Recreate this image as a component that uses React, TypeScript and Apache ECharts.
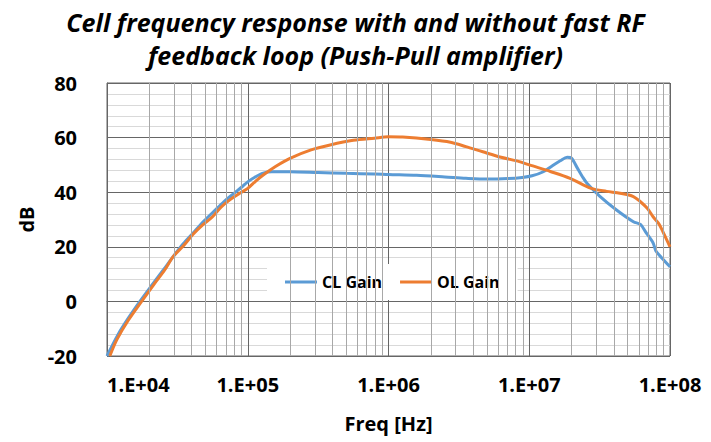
import React, { useEffect, useRef } from "react";
import * as echarts from "echarts";

const titleLines = ["Cell frequency response with and without fast RF", "feedback loop (Push-Pull amplifier)"];
const seriesNames = ["CL Gain", "OL Gain"];
const xTickLabels = ["1.E+04", "1.E+05", "1.E+06", "1.E+07", "1.E+08"];

const clFreq = [
  1.0e4, 1.202e4, 1.445e4, 1.714e4, 2.089e4, 2.512e4, 2.951e4, 3.467e4, 4.169e4, 4.898e4, 5.754e4, 6.761e4, 7.943e4, 9.12e4,
  1.0e5, 1.122e5, 1.288e5, 1.479e5, 1.995e5, 3.162e5, 5.012e5, 7.943e5,
  1.0e6, 1.585e6, 2.512e6, 3.548e6, 5.012e6, 7.079e6, 8.913e6,
  1.047e7, 1.259e7, 1.445e7, 1.66e7, 1.862e7, 1.995e7, 2.188e7, 2.399e7, 2.57e7, 3.162e7, 4.169e7, 5.495e7,
  6.166e7, 6.761e7, 7.586e7, 7.943e7, 8.71e7, 1.0e8,
];
const clGain = [
  -20, -12, -5.5, 0, 6, 11.5, 16.4, 21, 25.5, 29.5, 33, 36.5, 39.5, 42,
  43.8, 45.5, 47, 47.5, 47.5, 47.2, 46.9, 46.7,
  46.5, 46.2, 45.6, 45.1, 44.8, 45.0, 45.4,
  46.0, 47.5, 49.5, 51.5, 52.8, 52.5, 49, 45.5, 43.3, 38.6, 33.5, 29.2,
  28.2, 25.2, 21.4, 18.5, 16.0, 12.7,
];

const olFreq = [
  1.047e4, 1.175e4, 1.413e4, 1.762e4, 2.138e4, 2.57e4, 2.951e4, 3.508e4, 4.074e4, 4.786e4, 5.623e4, 6.457e4, 7.413e4, 8.71e4,
  1.0e5, 1.135e5, 1.288e5, 1.585e5, 1.995e5, 2.818e5, 3.846e5, 5.623e5, 7.943e5,
  1.0e6, 1.259e6, 1.995e6, 2.754e6, 3.548e6, 4.677e6, 6.31e6, 8.511e6,
  1.0e7, 1.413e7, 1.95e7, 2.754e7, 3.548e7, 4.416e7, 5.495e7, 6.166e7, 6.918e7, 7.586e7, 8.318e7, 8.913e7, 1.0e8,
];
const olGain = [
  -20, -14, -7, 0, 6, 11.5, 16.4, 20.5, 24.5, 28, 31, 34.5, 37.1, 39.5,
  41.4, 44, 46.3, 49.5, 52.4, 55.5, 57.3, 59, 59.8,
  60.3, 60.2, 59.3, 58.3, 56.7, 54.8, 52.8, 51.2,
  50, 47.6, 45.1, 41.4, 40.3, 39.6, 38.4, 36.5, 34, 31, 28.5, 25.5, 20,
];

const yMin = -20;
const yMax = 80;
const yStep = 20;

const minorFreqs: number[] = [];
for (let d = 4; d < 8; d++) {
  for (let m = 2; m <= 9; m++) minorFreqs.push(m * Math.pow(10, d));
}

const FONT = "'Open Sans', 'DejaVu Sans', sans-serif";

export default function App() {
  const ref = useRef<HTMLDivElement>(null);
  useEffect(() => {
    if (!ref.current) return;
    const chart = echarts.init(ref.current, null, { renderer: "svg" });
    const labelMap: Record<string, string> = {};
    xTickLabels.forEach((t, i) => (labelMap[String(Math.pow(10, 4 + i))] = t));
    chart.setOption({
      animation: false,
      backgroundColor: "#ffffff",
      title: {
        text: titleLines.join("\n"),
        left: "center",
        top: 0,
        textStyle: {
          fontFamily: FONT,
          fontSize: 25,
          fontWeight: "bold",
          fontStyle: "italic",
          color: "#000",
          lineHeight: 33,
        },
      },
      legend: {
        left: 267,
        top: 264,
        padding: [10, 18, 10, 18],
        backgroundColor: "#ffffff",
        itemWidth: 32,
        itemHeight: 3,
        itemGap: 18,
        textStyle: { fontFamily: FONT, fontSize: 16, fontWeight: "bold", color: "#000" },
        data: seriesNames.map((n) => ({ name: n, icon: "rect" })),
      },
      grid: {
        left: 107,
        right: 41,
        top: 83,
        bottom: 86,
        show: true,
        borderColor: "#666666",
        borderWidth: 1,
      },
      xAxis: {
        type: "log",
        logBase: 10,
        min: 1e4,
        max: 1e8,
        name: "Freq [Hz]",
        nameLocation: "middle",
        nameGap: 57,
        nameTextStyle: { fontFamily: FONT, fontSize: 20, fontWeight: "bold", color: "#000" },
        axisLine: { show: true, lineStyle: { color: "#666666" } },
        axisTick: { show: false },
        axisLabel: {
          fontFamily: FONT,
          fontSize: 20,
          fontWeight: "bold",
          color: "#000",
          margin: 18,
          alignMinLabel: "left",
          formatter: (v: number) => {
            const e = Math.round(Math.log10(v));
            return labelMap[String(Math.pow(10, e))] ?? "";
          },
        },
        splitLine: { show: true, lineStyle: { color: "#666666", width: 1 } },
      },
      yAxis: {
        type: "value",
        min: yMin,
        max: yMax,
        interval: yStep,
        name: "dB",
        nameLocation: "middle",
        nameGap: 70,
        nameTextStyle: { fontFamily: FONT, fontSize: 20, fontWeight: "bold", color: "#000" },
        axisLine: { show: true, lineStyle: { color: "#666666" } },
        axisTick: { show: false },
        axisLabel: { fontFamily: FONT, fontSize: 20, fontWeight: "bold", color: "#000", margin: 30 },
        splitLine: { show: true, lineStyle: { color: "#666666", width: 1 } },
        minorTick: { show: false, splitNumber: 5 },
        minorSplitLine: { show: true, lineStyle: { color: "#d9d9d9", width: 1 } },
      },
      series: [
        {
          name: "minor-grid",
          type: "line",
          data: [],
          silent: true,
          z: 1,
          markLine: {
            silent: true,
            symbol: "none",
            label: { show: false },
            lineStyle: { color: "#a8a8a8", type: "solid", width: 1 },
            data: minorFreqs.map((f) => ({ xAxis: f })),
          },
        },
        {
          name: seriesNames[0],
          type: "line",
          data: clFreq.map((f, i) => [f, clGain[i]]),
          symbol: "none",
          smooth: 0.3,
          z: 3,
          lineStyle: { color: "#5B9BD5", width: 3 },
          itemStyle: { color: "#5B9BD5" },
        },
        {
          name: seriesNames[1],
          type: "line",
          data: olFreq.map((f, i) => [f, olGain[i]]),
          symbol: "none",
          smooth: 0.3,
          z: 4,
          lineStyle: { color: "#ED7D31", width: 3 },
          itemStyle: { color: "#ED7D31" },
        },
      ],
    });
    return () => chart.dispose();
  }, []);
  return <div ref={ref} style={{ width: 711, height: 442, position: "absolute", left: 0, top: 0 }} />;
}
